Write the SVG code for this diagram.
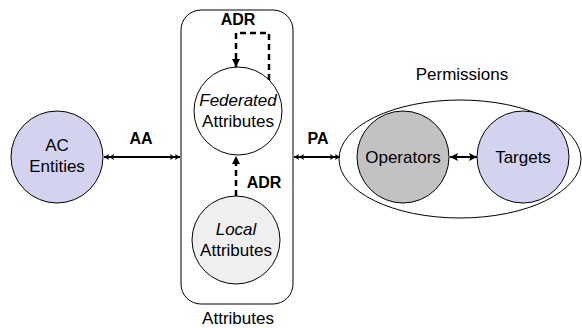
<svg xmlns="http://www.w3.org/2000/svg" width="582" height="328" viewBox="0 0 582 328">
<defs>
<style>
text{font-family:"Liberation Sans",Arial,sans-serif;font-size:17px;fill:#000;text-anchor:middle}
.b{font-weight:bold;font-size:16px}
.i{font-style:italic}
.n{stroke:#000;stroke-width:1}
.c{fill:none;stroke:#000;stroke-width:2}
.d{fill:none;stroke:#000;stroke-width:2.5;stroke-dasharray:6,4}
</style>
<marker id="dbl" viewBox="0 0 10 7" refX="10" refY="3.5" markerWidth="10" markerHeight="7" markerUnits="userSpaceOnUse" orient="auto-start-reverse">
<path d="M0,0.5 L5,3.5 L0,6.5 L1,3.5 Z M5,0.5 L10,3.5 L5,6.5 L6,3.5 Z" fill="#000"/>
</marker>
<marker id="one" viewBox="0 0 8 8" refX="8" refY="4" markerWidth="8" markerHeight="8" markerUnits="userSpaceOnUse" orient="auto-start-reverse">
<path d="M0,0 L8,4 L0,8 L1.5,4 Z" fill="#000"/>
</marker>
<marker id="tri" viewBox="0 0 8 8" refX="8" refY="4" markerWidth="8" markerHeight="8" markerUnits="userSpaceOnUse" orient="auto">
<path d="M0,0 L8,4 L0,8 Z" fill="#000"/>
</marker>
</defs>
<g id="attributes-box">
<rect class="n" x="181" y="10" width="112" height="294" rx="20" fill="#fff"/>
<text x="238" y="324">Attributes</text>
</g>
<g id="permissions">
<ellipse class="n" cx="460" cy="159" rx="121" ry="59" fill="#fff"/>
<text x="462" y="80">Permissions</text>
</g>
<g id="ac-entities">
<circle class="n" cx="57" cy="157" r="46" fill="#d3d3f0"/>
<text x="57" y="151">AC</text>
<text x="57" y="172">Entities</text>
</g>
<g id="federated">
<circle class="n" cx="238" cy="111" r="44" fill="#fff"/>
<text class="i" x="238" y="106">Federated</text>
<text x="238" y="127">Attributes</text>
</g>
<g id="local">
<circle class="n" cx="236" cy="240" r="44" fill="#efefef"/>
<text class="i" x="236" y="235">Local</text>
<text x="236" y="256">Attributes</text>
</g>
<g id="operators">
<circle class="n" cx="403" cy="157" r="46" fill="#c2c2c2"/>
<text x="403" y="163">Operators</text>
</g>
<g id="targets">
<circle class="n" cx="523" cy="157" r="46" fill="#d3d3f0"/>
<text x="523" y="163">Targets</text>
</g>
<g id="connectors">
<line class="c" x1="104" y1="157" x2="180" y2="157" marker-start="url(#dbl)" marker-end="url(#dbl)"/>
<text class="b" x="141" y="144">AA</text>
<line class="c" x1="294" y1="157" x2="340" y2="157" marker-start="url(#dbl)" marker-end="url(#dbl)"/>
<text class="b" x="318" y="144">PA</text>
<line class="c" x1="450" y1="157" x2="477" y2="157" marker-start="url(#one)" marker-end="url(#one)"/>
<path class="d" d="M269,80 V33 H236 V67" marker-end="url(#tri)"/>
<text class="b" x="238" y="25">ADR</text>
<path class="d" d="M236,196 V156" marker-end="url(#tri)"/>
<text class="b" x="264" y="188">ADR</text>
</g>
</svg>
